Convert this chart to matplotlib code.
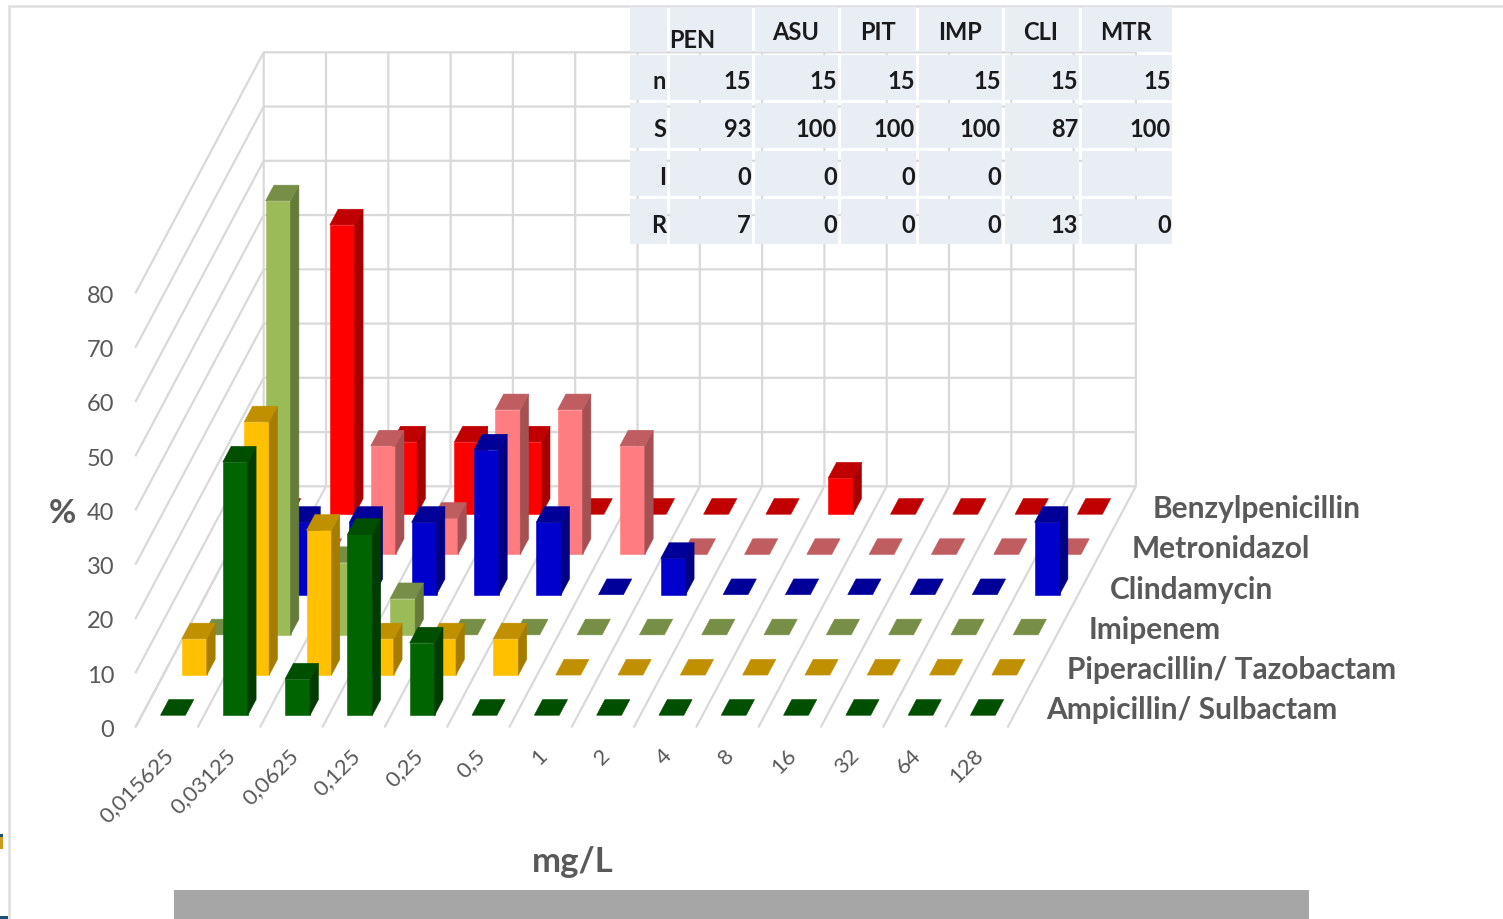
import matplotlib
matplotlib.use("Agg")
import matplotlib.pyplot as plt
from matplotlib.patches import Polygon, Rectangle
from matplotlib.transforms import ScaledTranslation

plt.rcParams['font.family'] = ['Lato', 'DejaVu Sans']

W, H = 1503, 920

mic_labels = ['0,015625', '0,03125', '0,0625', '0,125', '0,25', '0,5', '1', '2',
              '4', '8', '16', '32', '64', '128']
pct_ticks = [0, 10, 20, 30, 40, 50, 60, 70, 80]

# % of isolates per MIC step, front row first
ampicillin = [0, 46.67, 6.67, 33.33, 13.33, 0, 0, 0, 0, 0, 0, 0, 0, 0]
piperacillin = [6.67, 46.67, 26.67, 6.67, 6.67, 6.67, 0, 0, 0, 0, 0, 0, 0, 0]
imipenem = [0, 80, 13.33, 6.67, 0, 0, 0, 0, 0, 0, 0, 0, 0, 0]
clindamycin = [0, 13.33, 13.33, 13.33, 26.67, 13.33, 0, 6.67, 0, 0, 0, 0, 0, 13.33]
metronidazol = [0, 0, 20, 6.67, 26.67, 26.67, 20, 0, 0, 0, 0, 0, 0, 0]
benzylpenicillin = [0, 53.33, 13.33, 13.33, 13.33, 0, 0, 0, 0, 6.67, 0, 0, 0, 0]

series_names = ['Ampicillin/ Sulbactam', 'Piperacillin/ Tazobactam', 'Imipenem',
                'Clindamycin', 'Metronidazol', 'Benzylpenicillin']
series_values = [ampicillin, piperacillin, imipenem, clindamycin, metronidazol,
                 benzylpenicillin]

# front, top, side colour of each series
face_colors = ['#006400', '#FFC000', '#9BBB59', '#0000CC', '#FF7C80', '#FF0000']
top_colors = ['#004E00', '#C09000', '#768E45', '#000099', '#BF5D60', '#C00000']
side_colors = ['#003C00', '#A67C00', '#657B3A', '#000084', '#A55153', '#A60000']

# table next to the chart
table_cols = ['', 'PEN', 'ASU', 'PIT', 'IMP', 'CLI', 'MTR']
table_rows = [
    ['n', '15', '15', '15', '15', '15', '15'],
    ['S', '93', '100', '100', '100', '87', '100'],
    ['I', '0', '0', '0', '0', '', ''],
    ['R', '7', '0', '0', '0', '13', '0'],
]

# oblique view: how far one row of depth moves a point
COL_PX = 62.3
VAL_PX = 5.425
ROW_DX = 21.4 / COL_PX
ROW_DY = 40.2 / VAL_PX
BAR_W = 0.4
BAR_D = 0.39

AX_LEFT, AX_TOP, AX_RIGHT, AX_BOTTOM = 135.3, 53.5, 1136.3, 728.5


def project(col, row, val):
    return col + row * ROW_DX, val + row * ROW_DY


def px_rect(left, top, right, bottom):
    return [left / W, 1 - bottom / H, (right - left) / W, (bottom - top) / H]


fig = plt.figure(figsize=(W / 100, H / 100), dpi=100, facecolor='white')

# page furniture around the chart
bg = fig.add_axes([0, 0, 1, 1], zorder=0)
bg.set_xlim(0, W)
bg.set_ylim(H, 0)
bg.axis('off')
bg.plot([8.5, 8.5, W], [H, 6.5, 6.5], color='#DEDEDE', lw=1.8, solid_joinstyle='miter')
bg.add_patch(Rectangle((174, 890.5), 1135, 30, color='#A6A6A6', lw=0))
bg.add_patch(Rectangle((0, 838), 2.5, 12, color='#D09A20', lw=0))
bg.add_patch(Rectangle((0, 835), 2.5, 3, color='#1F4E79', lw=0))
bg.add_patch(Rectangle((0, 917), 8, 3, color='#1F4E79', lw=0))

# x = MIC column, y = percent, on the front plane of the box
ax = fig.add_axes(px_rect(AX_LEFT, AX_TOP, AX_RIGHT, AX_BOTTOM), zorder=1)
ax.set_xlim(0, (AX_RIGHT - AX_LEFT) / COL_PX)
ax.set_ylim(0, (AX_BOTTOM - AX_TOP) / VAL_PX)
ax.patch.set_alpha(0)
for sp in ax.spines.values():
    sp.set_visible(False)

n_cols = len(mic_labels)
n_rows = len(series_names)
grid_kw = dict(color='#D9D9D9', lw=1.6, clip_on=False, solid_capstyle='butt', zorder=1)

# walls and floor
for v in pct_ticks:
    xs, ys = zip(project(0, 0, v), project(0, n_rows, v), project(n_cols, n_rows, v))
    ax.plot(xs, ys, **grid_kw)
for k in range(n_cols + 1):
    xs, ys = zip(project(k, 0, 0), project(k, n_rows, 0), project(k, n_rows, pct_ticks[-1]))
    ax.plot(xs, ys, **grid_kw)

# bars, back row first so nearer ones cover them
for s in range(n_rows - 1, -1, -1):
    d0 = s + 0.5 - BAR_D / 2
    d1 = s + 0.5 + BAR_D / 2
    for i, v in enumerate(series_values[s]):
        x0 = i + 0.5 - BAR_W / 2
        x1 = i + 0.5 + BAR_W / 2
        top = [project(x0, d0, v), project(x1, d0, v), project(x1, d1, v), project(x0, d1, v)]
        if v > 0:
            front = [project(x0, d0, 0), project(x1, d0, 0), project(x1, d0, v), project(x0, d0, v)]
            side = [project(x1, d0, 0), project(x1, d1, 0), project(x1, d1, v), project(x1, d0, v)]
            ax.add_patch(Polygon(front, fc=face_colors[s], ec=face_colors[s], lw=0.4,
                                 clip_on=False, zorder=2))
            ax.add_patch(Polygon(side, fc=side_colors[s], ec=side_colors[s], lw=0.4,
                                 clip_on=False, zorder=2))
        ax.add_patch(Polygon(top, fc=top_colors[s], ec=top_colors[s], lw=0.4,
                             clip_on=False, zorder=2))

ax.set_yticks(pct_ticks)
ax.set_yticklabels([str(v) for v in pct_ticks])
ax.set_xticks([i + 0.5 for i in range(n_cols)])
ax.set_xticklabels(mic_labels, rotation=45, ha='right', va='top', rotation_mode='anchor')
ax.tick_params(axis='y', length=0, pad=15, labelsize=17, labelcolor='#595959')
ax.tick_params(axis='x', length=0, pad=13, labelsize=16, labelcolor='#595959')
ax.grid(False)

# the slanted labels sit a bit left of the column centres
shift = ScaledTranslation(-0.03, 0.01, fig.dpi_scale_trans)
for lab in ax.get_xticklabels():
    lab.set_transform(lab.get_transform() + shift)

# series names along the right edge of the floor
for s, name in enumerate(series_names):
    x, y = project(n_cols, s + 0.5, 0)
    ax.annotate(name, (x, y), xytext=(19.8, -1.3), textcoords='offset points', ha='left',
                va='center', fontsize=21.5, fontweight='bold', color='#595959',
                annotation_clip=False, zorder=3)

box_w = AX_RIGHT - AX_LEFT
box_h = AX_BOTTOM - AX_TOP
ax.set_xlabel('mg/L', fontsize=25, fontweight='bold', color='#595959')
ax.xaxis.set_label_coords((572.5 - AX_LEFT) / box_w, (AX_BOTTOM - 862) / box_h)
ax.xaxis.label.set_va('center')
ax.set_ylabel('%', rotation=0, fontsize=24, fontweight='bold', color='#595959')
ax.yaxis.set_label_coords((62.5 - AX_LEFT) / box_w, (AX_BOTTOM - 514) / box_h)
ax.yaxis.label.set_ha('center')
ax.yaxis.label.set_va('center')

# table on top of the back wall, its axes counted in pixels
tab_ax = fig.add_axes([0, 0, 1, 1], zorder=2)
tab_ax.set_xlim(0, W)
tab_ax.set_ylim(H, 0)
tab_ax.axis('off')
col_left = [630, 670, 755, 841, 919, 1005, 1082]
col_right = [667, 752, 838, 916, 1002, 1079, 1172]
row_top = [8, 56, 104, 152, 200]
row_bottom = [53, 101, 149, 197, 245]
tab_font = dict(fontsize=17, fontweight='bold', color='#1A1A1A')
for r, row in enumerate([table_cols] + table_rows):
    for c, txt in enumerate(row):
        tab_ax.add_patch(Rectangle((col_left[c], row_top[r]), col_right[c] - col_left[c],
                                   row_bottom[r] - row_top[r], fc='#E9EDF4', lw=0))
        yc = (row_top[r] + row_bottom[r]) / 2
        if r == 0 and c == 1:
            # PEN sits low and to the left in its cell
            tab_ax.text(col_left[c] - 0.5, yc + 10.5, txt, ha='left', va='center', **tab_font)
        elif r == 0:
            tab_ax.text((col_left[c] + col_right[c]) / 2 - 1, yc + 2.5, txt, ha='center', va='center', **tab_font)
        else:
            tab_ax.text(col_right[c] - 1, yc + 3, txt, ha='right', va='center', **tab_font)

fig.savefig('out.png', dpi=100)
